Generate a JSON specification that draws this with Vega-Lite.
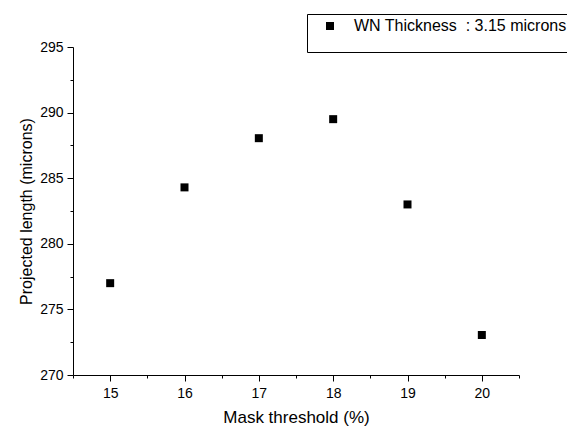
{
  "$schema": "https://vega.github.io/schema/vega-lite/v6.json",
  "width": 446,
  "height": 328,
  "autosize": "none",
  "padding": {"left": 73, "top": 47, "right": 48, "bottom": 57},
  "background": "white",
  "config": {
    "view": {"stroke": null},
    "font": "Liberation Sans",
    "axis": {
      "domainColor": "black",
      "tickColor": "black",
      "labelColor": "black",
      "titleColor": "black",
      "grid": false,
      "labelFontSize": 14,
      "titleFontWeight": "normal",
      "tickSize": 6,
      "domainWidth": 1,
      "tickWidth": 1
    }
  },
  "data": {
    "values": [
      {"threshold": 15, "length": 277.0},
      {"threshold": 16, "length": 284.3},
      {"threshold": 17, "length": 288.05},
      {"threshold": 18, "length": 289.5},
      {"threshold": 19, "length": 283.0},
      {"threshold": 20, "length": 273.05}
    ]
  },
  "layer": [
    {
      "mark": {"type": "point", "filled": true, "shape": "square", "size": 64, "opacity": 1},
      "encoding": {
        "x": {
          "field": "threshold", "type": "quantitative",
          "scale": {"domain": [14.5, 20.5], "nice": false, "zero": false},
          "axis": {"orient": "bottom", "values": [15, 16, 17, 18, 19, 20], "title": "Mask threshold (%)", "titleFontSize": 17, "labelPadding": 5, "titlePadding": 9}
        },
        "y": {
          "field": "length", "type": "quantitative",
          "scale": {"domain": [270, 295], "nice": false, "zero": false},
          "axis": {"orient": "left", "values": [270, 275, 280, 285, 290, 295], "title": "Projected length (microns)", "titleFontSize": 16, "labelPadding": 4, "titlePadding": 5}
        },
        "shape": {
          "datum": "WN Thickness\u00a0 : 3.15 microns", "type": "nominal",
          "scale": {"range": ["square"]},
          "legend": {
            "orient": "none", "legendX": 234, "legendY": -33,
            "title": " ", "titleOrient": "bottom", "titleFontSize": 10, "titlePadding": 4,
            "padding": 4, "strokeColor": "black", "fillColor": "white",
            "symbolOffset": 11, "labelOffset": 16, "symbolSize": 64,
            "symbolFillColor": "black", "symbolStrokeColor": "black", "symbolStrokeWidth": 0,
            "labelFontSize": 16, "labelColor": "black", "labelLimit": 400
          }
        },
        "color": {"value": "black"}
      }
    },
    {
      "mark": {"type": "point", "opacity": 0},
      "encoding": {
        "x": {
          "field": "threshold", "type": "quantitative",
          "axis": {"orient": "bottom", "values": [14.5, 15.5, 16.5, 17.5, 18.5, 19.5, 20.5], "labels": false, "domain": false, "tickSize": 3, "title": null}
        },
        "y": {
          "field": "length", "type": "quantitative",
          "axis": {"orient": "left", "values": [272.5, 277.5, 282.5, 287.5, 292.5], "labels": false, "domain": false, "tickSize": 3, "title": null}
        }
      }
    }
  ],
  "resolve": {"axis": {"x": "independent", "y": "independent"}}
}
